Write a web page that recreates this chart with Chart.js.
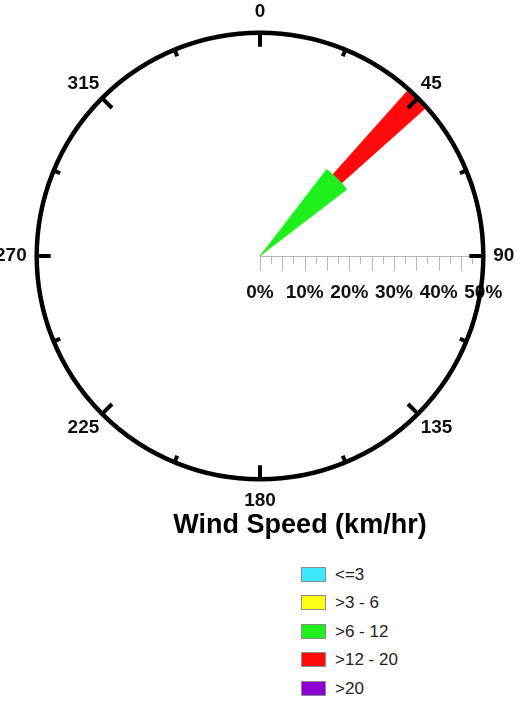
<!DOCTYPE html>
<html>
<head>
<meta charset="utf-8">
<title>Wind Speed (km/hr)</title>
<script src="https://cdn.jsdelivr.net/npm/chart.js@4"></script>
<style>
  html, body { margin: 0; padding: 0; background: #fff; }
  body { width: 529px; height: 701px; position: relative; overflow: hidden; font-family: "Liberation Sans", Arial, sans-serif; }
  #rosa { position: absolute; left: -10px; top: -9px; width: 530px; height: 530px; }
  #titulo { position: absolute; left: 100px; top: 511px; width: 400px; text-align: center; font-weight: bold; font-size: 27px; line-height: 27px; color: #000; }
  #leyenda { position: absolute; left: 301px; top: 567px; display: flex; flex-direction: column; gap: 13.4px; }
  .item { display: flex; align-items: center; height: 15px; }
  .caja { width: 25px; height: 15px; box-sizing: border-box; border: 1px solid #8c8c8c; margin-right: 9px; }
  .item span { font-size: 17px; line-height: 15px; color: #222; }
</style>
</head>
<body>
<div id="rosa"><canvas id="grafica"></canvas></div>
<div id="titulo">Wind Speed (km/hr)</div>
<div id="leyenda"></div>
<script>
const direcciones = [0, 22.5, 45, 67.5, 90, 112.5, 135, 157.5, 180, 202.5, 225, 247.5, 270, 292.5, 315, 337.5];
const clases = ['<=3', '>3 - 6', '>6 - 12', '>12 - 20', '>20'];

// frecuencia (%) por dirección para cada clase de velocidad
const frecHasta3 = [0, 0, 0, 0, 0, 0, 0, 0, 0, 0, 0, 0, 0, 0, 0, 0];
const frec3a6    = [0, 0, 0, 0, 0, 0, 0, 0, 0, 0, 0, 0, 0, 0, 0, 0];
const frec6a12   = [0, 0, 24.5, 0, 0, 0, 0, 0, 0, 0, 0, 0, 0, 0, 0, 0];
const frec12a20  = [0, 0, 25, 0, 0, 0, 0, 0, 0, 0, 0, 0, 0, 0, 0, 0];
const frecMas20  = [0, 0, 0, 0, 0, 0, 0, 0, 0, 0, 0, 0, 0, 0, 0, 0];

const valoresEje = [0, 10, 20, 30, 40, 50];
const etiquetasEje = ['0%', '10%', '20%', '30%', '40%', '50%'];

const colores = ['#3ce8f8', '#ffff14', '#1ef01e', '#ff0a0a', '#8a00d0'];
const anchos = [20, 17.5, 15, 6.5, 4]; // grados de cada pétalo

const series = [frecHasta3, frec3a6, frec6a12, frec12a20, frecMas20];
const paso = 360 / direcciones.length;

let acumulado = direcciones.map(() => 0);
const datasets = series.map((serie, k) => {
  acumulado = acumulado.map((v, i) => v + serie[i]);
  const valores = [];
  const angulos = [];
  const w = anchos[k];
  // cada sector: mitad del pétalo, hueco, mitad del pétalo siguiente
  direcciones.forEach((d, i) => {
    const sig = (i + 1) % direcciones.length;
    valores.push(acumulado[i], 0, acumulado[sig]);
    angulos.push(w / 2, paso - w, w / 2);
  });
  return {
    label: clases[k],
    data: valores,
    backgroundColor: colores[k],
    borderColor: colores[k],
    borderWidth: 0.5,
    angle: c => angulos[c.dataIndex]
  };
});

// regla de porcentajes sobre el eje este
const regla = {
  id: 'regla',
  afterDatasetsDraw(chart) {
    const r = chart.scales.r;
    const ctx = chart.ctx;
    const x0 = r.xCenter, y0 = r.yCenter;
    ctx.save();
    ctx.strokeStyle = '#b4b4b4';
    ctx.lineWidth = 1;
    ctx.beginPath();
    ctx.moveTo(x0, y0 + 0.5);
    ctx.lineTo(x0 + r.getDistanceFromCenterForValue(r.max), y0 + 0.5);
    ctx.stroke();
    for (let v = r.min; v <= r.max; v += 2.5) {
      const x = Math.round(x0 + r.getDistanceFromCenterForValue(v)) + 0.5;
      const largo = v % 5 === 0 ? 15 : 8;
      ctx.beginPath();
      ctx.moveTo(x, y0);
      ctx.lineTo(x, y0 + largo);
      ctx.stroke();
    }
    ctx.fillStyle = '#111';
    ctx.font = 'bold 19px "Liberation Sans", Arial, sans-serif';
    ctx.textAlign = 'center';
    ctx.textBaseline = 'alphabetic';
    valoresEje.forEach((v, i) => {
      ctx.fillText(etiquetasEje[i], x0 + r.getDistanceFromCenterForValue(v), y0 + 42);
    });
    ctx.restore();
  }
};

new Chart(document.getElementById('grafica'), {
  type: 'polarArea',
  data: { labels: direcciones, datasets: datasets },
  options: {
    responsive: true,
    maintainAspectRatio: false,
    animation: false,
    events: [],
    layout: { padding: 0 },
    plugins: { legend: { display: false }, tooltip: { enabled: false } },
    scales: {
      r: {
        min: 0,
        max: 50,
        startAngle: 0,
        ticks: { display: false, stepSize: 50 },
        grid: { z: 1, circular: true, color: '#000', lineWidth: 4.5 },
        angleLines: {
          display: true,
          color: '#000',
          lineWidth: 4,
          borderDash: c => {
            const largo = direcciones[c.index] % 45 === 0 ? 14 : 7;
            return [0, c.scale.drawingArea - largo, 60];
          }
        },
        pointLabels: {
          display: true,
          padding: c => (direcciones[c.index] % 90 === 45 ? 4 : 10),
          color: '#111',
          font: { family: '"Liberation Sans", Arial, sans-serif', size: 19, weight: 'bold' },
          callback: v => (v % 45 === 0 ? String(v) : '')
        }
      }
    }
  },
  plugins: [regla]
});

const leyenda = document.getElementById('leyenda');
clases.forEach((c, k) => {
  const fila = document.createElement('div');
  fila.className = 'item';
  const caja = document.createElement('div');
  caja.className = 'caja';
  caja.style.background = colores[k];
  const txt = document.createElement('span');
  txt.innerText = c;
  fila.appendChild(caja);
  fila.appendChild(txt);
  leyenda.appendChild(fila);
});
</script>
</body>
</html>
